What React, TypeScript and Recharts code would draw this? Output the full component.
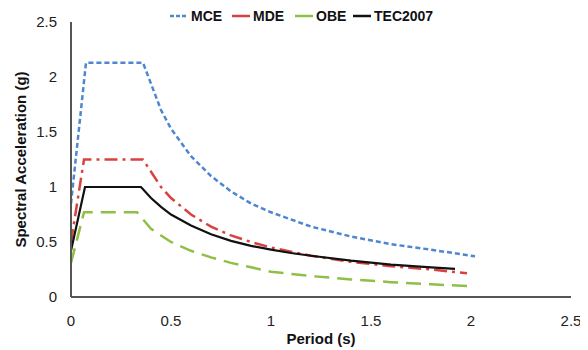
import React from "react";
import { LineChart, Line, XAxis, YAxis } from "recharts";

const xTicks = [0, 0.5, 1, 1.5, 2, 2.5];
const yTicks = [0, 0.5, 1, 1.5, 2, 2.5];

const mcePeriod = [0, 0.075, 0.36, 0.45, 0.5, 0.6, 0.7, 0.8, 0.9, 1.0, 1.2, 1.4, 1.6, 1.8, 2.02];
const mceValue = [0.85, 2.13, 2.13, 1.7, 1.53, 1.28, 1.1, 0.96, 0.85, 0.77, 0.64, 0.55, 0.48, 0.43, 0.37];

const mdePeriod = [0, 0.065, 0.36, 0.45, 0.5, 0.6, 0.7, 0.8, 0.9, 1.0, 1.2, 1.4, 1.6, 1.8, 1.98];
const mdeValue = [0.5, 1.25, 1.25, 1.0, 0.9, 0.75, 0.64, 0.56, 0.5, 0.45, 0.375, 0.32, 0.28, 0.25, 0.215];

const obePeriod = [0, 0.065, 0.33, 0.4, 0.5, 0.6, 0.7, 0.8, 0.9, 1.0, 1.2, 1.4, 1.6, 1.8, 1.99];
const obeValue = [0.31, 0.77, 0.77, 0.62, 0.5, 0.42, 0.36, 0.31, 0.27, 0.23, 0.19, 0.16, 0.135, 0.115, 0.1];

const tecPeriod = [0, 0.07, 0.35, 0.4, 0.45, 0.5, 0.6, 0.7, 0.8, 0.9, 1.0, 1.1, 1.2, 1.4, 1.6, 1.8, 1.92];
const tecValue = [0.42, 1.0, 1.0, 0.9, 0.82, 0.75, 0.65, 0.57, 0.51, 0.465, 0.43, 0.4, 0.375, 0.33, 0.295, 0.27, 0.255];

const toRows = (p: number[], v: number[]) => p.map((t, i) => ({ t, v: v[i] }));

const series = [
  { name: "MCE", color: "#4f86d1", dash: "5 3", data: toRows(mcePeriod, mceValue) },
  { name: "MDE", color: "#d9413f", dash: "13 5 3 5", data: toRows(mdePeriod, mdeValue) },
  { name: "OBE", color: "#8fbf46", dash: "15 8", data: toRows(obePeriod, obeValue) },
  { name: "TEC2007", color: "#111111", dash: undefined as string | undefined, data: toRows(tecPeriod, tecValue) },
];

const legendPos = [162, 224, 287, 345];

const font = "'Liberation Sans', Arial, sans-serif";

export default function App() {
  return (
    <div style={{ position: "relative", width: 580, height: 342, fontFamily: font }}>
      <LineChart width={580} height={342} margin={{ top: 14, right: 17, left: 0, bottom: 0 }}>
        <XAxis
          type="number"
          dataKey="t"
          domain={[0, 2.5]}
          ticks={xTicks}
          allowDuplicatedCategory={false}
          height={53}
          axisLine={{ stroke: "#555", strokeWidth: 2 }}
          tickLine={false}
          tickMargin={12}
          tick={{ fill: "#222", fontSize: 15, fontFamily: font }}
          label={{ value: "Period (s)", position: "insideBottom", offset: 6, style: { fill: "#111", fontSize: 15, fontWeight: "bold", fontFamily: font } }}
        />
        <YAxis
          type="number"
          dataKey="v"
          domain={[0, 2.5]}
          ticks={yTicks}
          width={63}
          axisLine={{ stroke: "#555", strokeWidth: 2 }}
          tickLine={false}
          tickMargin={8}
          tick={{ fill: "#222", fontSize: 15, fontFamily: font }}
          label={{ value: "Spectral Acceleration (g)", angle: -90, position: "insideLeft", offset: 13, style: { textAnchor: "middle", fill: "#111", fontSize: 15, fontWeight: "bold", fontFamily: font } }}
        />
        {series.map((s) => (
          <Line
            key={s.name}
            data={s.data}
            dataKey="v"
            name={s.name}
            type="linear"
            stroke={s.color}
            strokeWidth={s.name === "TEC2007" ? 2.2 : 2.5}
            strokeDasharray={s.dash}
            dot={false}
            isAnimationActive={false}
          />
        ))}
      </LineChart>
      {series.map((s, i) => (
        <div
          key={s.name}
          style={{ position: "absolute", top: 0, left: legendPos[i], height: 16, display: "flex", alignItems: "center", fontSize: 14, fontWeight: "bold", color: "#111" }}
        >
          <svg width={18} height={4} style={{ marginRight: 3 }}>
            <line x1={0} y1={2} x2={18} y2={2} stroke={s.color} strokeWidth={2.5} strokeDasharray={s.name === "MCE" ? "4 2" : undefined} />
          </svg>
          <span>{s.name}</span>
        </div>
      ))}
    </div>
  );
}
